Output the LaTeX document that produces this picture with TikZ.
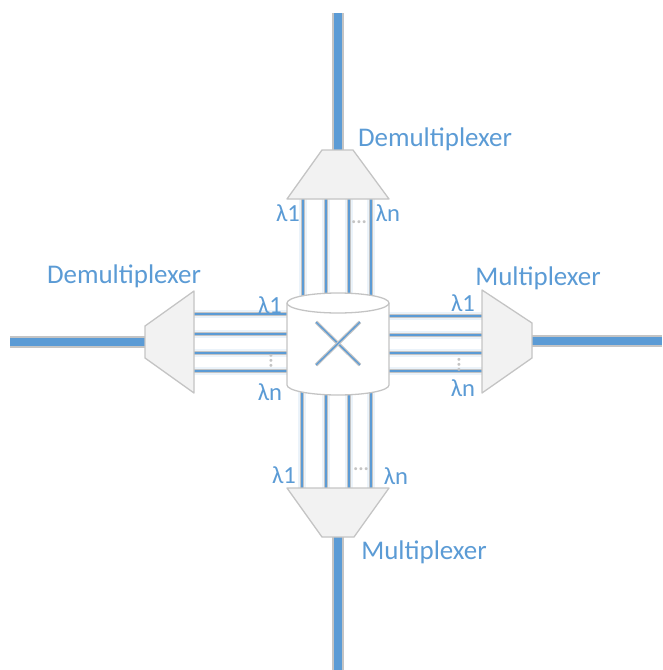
\documentclass[tikz,border=0pt]{standalone}
\usepackage{fontspec}
\setmainfont{Carlito}
\usepackage{xcolor}
\definecolor{fibreblue}{HTML}{5B9BD5}
\definecolor{edgegray}{HTML}{C4C4C4}
\definecolor{muxfill}{HTML}{F2F2F2}
\colorlet{glowblue}{fibreblue!12}
\tikzset{
    fibre/.style={preaction={draw=edgegray, line width=9.6pt}, draw=fibreblue, line width=6pt},
    wire/.style={preaction={draw=glowblue, line width=6pt}, preaction={draw=edgegray, line width=3pt}, draw=fibreblue, line width=1.1pt},
    muxbox/.style={draw=edgegray, fill=muxfill, line width=1.1pt, line join=round},
    xbar/.style={preaction={draw=edgegray, line width=3pt}, draw=fibreblue, line width=1.1pt},
    chanlabel/.style={text=fibreblue, font=\fontsize{21}{21}\selectfont, inner sep=0pt},
    muxlabel/.style={text=fibreblue, font=\fontsize{23}{23}\selectfont, inner sep=0pt},
    gapdots/.style={text=edgegray, font=\bfseries\fontsize{17}{17}\selectfont, inner sep=0pt}
}
\begin{document}
\begin{tikzpicture}[x=0.03cm,y=-0.03cm]
    \useasboundingbox (0,0) rectangle (662,670);
    % fibres
    \coordinate (topend) at (338,13);
    \coordinate (topmux) at (338,150);
    \coordinate (leftend) at (10,342);
    \coordinate (leftmux) at (145,342);
    \coordinate (rightmux) at (532,341);
    \coordinate (rightend) at (662,341);
    \coordinate (botmux) at (338,537);
    \coordinate (botend) at (338,670);
    \draw[fibre] (topend)--(topmux);
    \draw[fibre] (leftend)--(leftmux);
    \draw[fibre] (rightmux)--(rightend);
    \draw[fibre] (botmux)--(botend);
    % wavelength lines
    \foreach \x/\k in {303/1,326/2,349/3,371/4}{
        \coordinate (topa\k) at (\x,199);
        \coordinate (topb\k) at (\x,300);
        \draw[wire] (topa\k)--(topb\k);
    }
    \foreach \x/\k in {302/1,326/2,349/3,371/4}{
        \coordinate (bota\k) at (\x,390);
        \coordinate (botb\k) at (\x,488);
        \draw[wire] (bota\k)--(botb\k);
    }
    \foreach \y/\k in {314/1,334/2,353/3,371/4}{
        \coordinate (lefta\k) at (194,\y);
        \coordinate (leftb\k) at (290,\y);
        \draw[wire] (lefta\k)--(leftb\k);
    }
    \foreach \y/\k in {316/1,335/2,353/3,371/4}{
        \coordinate (righta\k) at (385,\y);
        \coordinate (rightb\k) at (482,\y);
        \draw[wire] (righta\k)--(rightb\k);
    }
    % mux and demux
    \draw[muxbox] (322,150)--(353,150)--(389,199)--(287,199)--cycle;
    \draw[muxbox] (287,488)--(389,488)--(354,537)--(322,537)--cycle;
    \draw[muxbox] (194,291)--(194,393)--(145,358)--(145,326)--cycle;
    \draw[muxbox] (482,290)--(532,323)--(532,358)--(482,393)--cycle;
    % switch
    \draw[draw=edgegray, fill=white, line width=1.1pt] (287,303)--(287,385) arc[start angle=180, end angle=0, x radius=51, y radius=10]--(389,303) arc[start angle=0, end angle=-180, x radius=51, y radius=10]--cycle;
    \draw[draw=edgegray, line width=1.1pt] (287,303) arc[start angle=180, end angle=0, x radius=51, y radius=10];
    \coordinate (xa) at (316,322);
    \coordinate (xb) at (360,365);
    \coordinate (xc) at (360,322);
    \coordinate (xd) at (316,365);
    \draw[xbar] (xa)--(xb);
    \draw[xbar] (xc)--(xd);
    % labels
    \node[muxlabel] (demuxtop) at (435,139) {Demultiplexer};
    \node[muxlabel] (demuxleft) at (124,276) {Demultiplexer};
    \node[muxlabel] (muxright) at (538,278) {Multiplexer};
    \node[muxlabel] (muxbot) at (424,552) {Multiplexer};
    \foreach \x/\y/\lab/\t in {288/213/a/1,388/213/b/n,270/305/c/1,270/392/d/n,463/303/e/1,463/388/f/n,284/475/g/1,396/476/h/n}{
        \node[chanlabel] (lam\lab) at (\x,\y) {λ\t};
    }
    \node[gapdots] (dotstop) at (359,222) {...};
    \node[gapdots] (dotsbot) at (361,469) {...};
    \node[gapdots, rotate=90] (dotsleft) at (271,361) {...};
    \node[gapdots, rotate=90] (dotsright) at (459,365) {...};
\end{tikzpicture}
\end{document}
